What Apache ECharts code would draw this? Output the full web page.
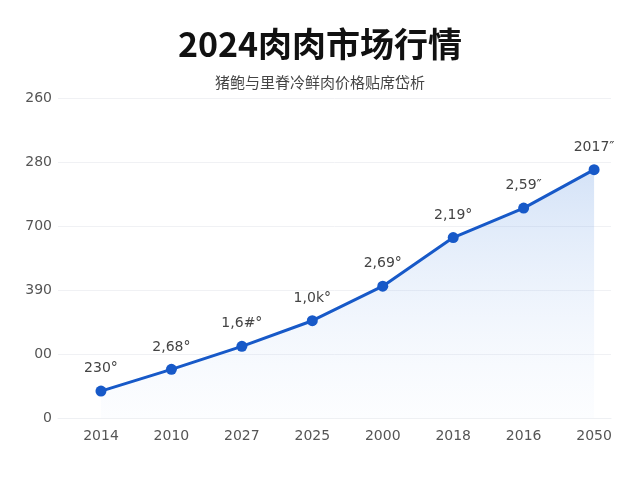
<!DOCTYPE html>
<html>
<head>
<meta charset="utf-8">
<script src="https://cdn.jsdelivr.net/npm/echarts@6/dist/echarts.min.js"></script>
<style>
  html, body { margin: 0; padding: 0; background: #fff; }
  #chart { width: 640px; height: 480px; }
</style>
</head>
<body>
<div id="chart"></div>
<script>
// 图表数据
const years = ['2014', '2010', '2027', '2025', '2000', '2018', '2016', '2050'];
const prices = [21, 38, 56, 76, 103, 141, 164, 194];
const pointLabels = ['230°', '2,68°', '1,6#°', '1,0k°', '2,69°', '2,19°', '2,59″', '2017″'];
const yTickLabels = ['0', '00', '390', '700', '280', '260'];

function renderPriceChart() {
    const chartDom = document.getElementById('chart');
    const chart = echarts.init(chartDom);

    chart.setOption({
        backgroundColor: '#fff',
        animation: false,
        title: [
            {
                text: '2024肉肉市场行情',
                left: 'center',
                top: 22,
                textStyle: { fontFamily: 'Noto Sans CJK SC', fontSize: 34, fontWeight: 'bold', color: '#111' }
            },
            {
                text: '猪鲍与里脊冷鲜肉价格贴席岱析',
                left: 'center',
                top: 70,
                textStyle: { fontFamily: 'Noto Sans CJK SC', fontSize: 15, fontWeight: 'normal', color: '#444' }
            }
        ],
        grid: { left: 58, right: 29, top: 98, bottom: 62 },
        xAxis: {
            type: 'value',
            min: -0.61,
            max: 7.24,
            axisLine: { show: true, lineStyle: { color: '#eef0f3' } },
            axisTick: { show: false },
            splitLine: { show: false },
            axisLabel: {
                customValues: years.map((y, i) => i),
                formatter: v => years[Math.round(v)],
                margin: 11,
                fontSize: 14,
                color: '#555',
                fontFamily: 'DejaVu Sans'
            }
        },
        yAxis: {
            type: 'value',
            min: 0,
            max: 250,
            interval: 50,
            axisLine: { show: false },
            axisTick: { show: false },
            splitLine: { lineStyle: { color: '#f0f1f4' } },
            axisLabel: {
                formatter: v => yTickLabels[Math.round(v / 50)],
                margin: 6,
                fontSize: 14,
                color: '#555',
                fontFamily: 'DejaVu Sans'
            }
        },
        series: [{
            type: 'line',
            data: prices.map((p, i) => [i, p]),
            symbol: 'circle',
            symbolSize: 11,
            lineStyle: { color: '#1759c8', width: 3 },
            itemStyle: { color: '#1759c8' },
            label: {
                show: true,
                position: 'top',
                distance: 10,
                formatter: p => pointLabels[p.dataIndex],
                fontSize: 14,
                color: '#444',
                fontFamily: 'DejaVu Sans'
            },
            areaStyle: {
                color: new echarts.graphic.LinearGradient(0, 0, 0, 1, [
                    { offset: 0, color: 'rgba(120,165,230,0.45)' },
                    { offset: 1, color: 'rgba(200,220,250,0.08)' }
                ])
            }
        }]
    });
}

renderPriceChart();
</script>
</body>
</html>
